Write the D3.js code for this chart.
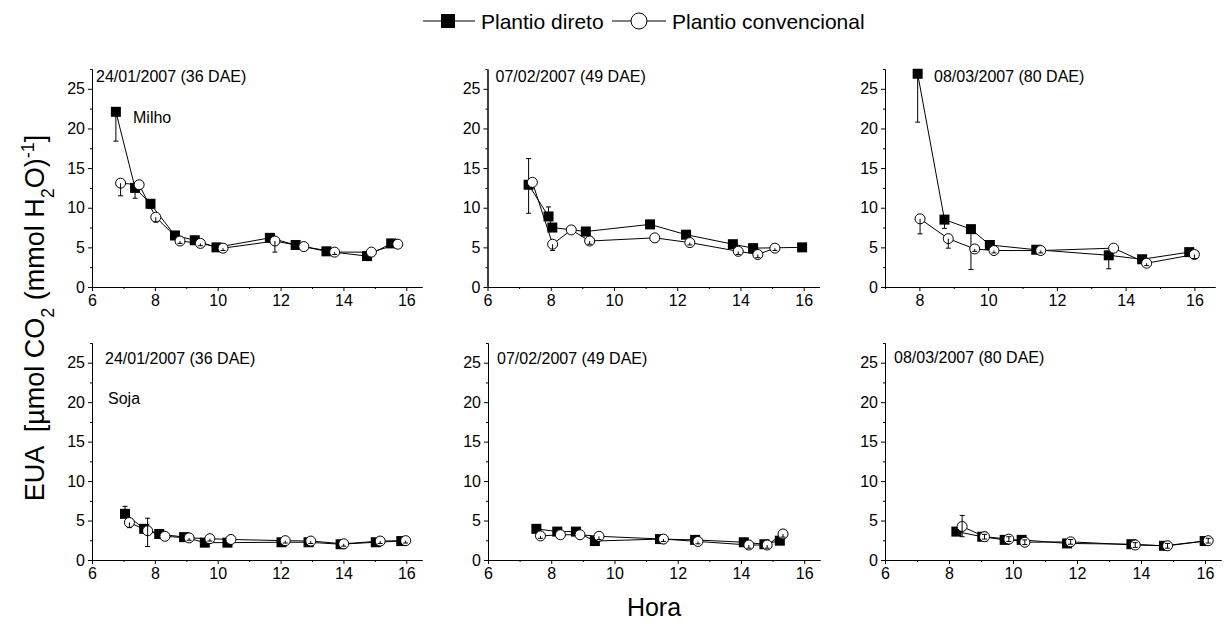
<!DOCTYPE html>
<html>
<head>
<meta charset="utf-8">
<script src="https://d3js.org/d3.v7.min.js"></script>
<style>
	body { margin: 0; background: #fff; }
	text { font-family: "Liberation Sans", Arial, sans-serif; fill: #000; }
</style>
</head>
<body>
<div id="chart"></div>
<script>
// each point: [hora, EUA, erro abaixo, erro acima]
var milho24Direto = [[6.76,22.1,3.7,0],[7.37,12.5,1.3,0],[7.86,10.5,0.6,0],[8.64,6.5,0,0],[9.27,5.9,0,0],[9.96,5.0,0,0],[11.66,6.2,0,0],[12.48,5.3,0,0],[13.46,4.5,0,0],[14.75,3.9,0,0],[15.52,5.5,0,0]]
var milho24Conv = [[6.91,13.1,1.6,0],[7.50,12.9,0,0],[8.03,8.8,0.6,0],[8.80,5.8,0.3,0],[9.45,5.5,0.3,0],[10.17,4.9,0.3,0],[11.82,5.8,1.4,0],[12.74,5.1,0,0],[13.72,4.4,0.3,0],[14.89,4.4,0,0],[15.73,5.4,0,0]]

var milho07Direto = [[7.30,12.9,3.6,3.3],[7.93,8.9,0,1.2],[8.05,7.5,0,0],[9.11,7.0,0,0],[11.14,7.9,0,0],[12.28,6.6,0,0],[13.76,5.4,0,0],[14.40,4.9,0,0],[15.95,5.0,0,0]]
var milho07Conv = [[7.42,13.2,0,0],[8.06,5.4,0.8,0],[8.65,7.2,0,0],[9.23,5.8,0.4,0],[11.29,6.2,0,0],[12.40,5.6,0.3,0],[13.93,4.5,0.4,0],[14.55,4.1,0.4,0],[15.09,4.9,0.3,0]]

var milho08Direto = [[7.95,26.9,6.1,0],[8.73,8.5,1.1,0],[9.50,7.3,5.1,0],[10.05,5.3,0,0],[11.40,4.7,0,0],[13.51,4.0,1.7,0],[14.48,3.5,0,0],[15.85,4.4,0.5,0]]
var milho08Conv = [[8.02,8.6,1.9,0],[8.84,6.1,1.2,0],[9.61,4.8,0.3,0],[10.17,4.6,0.3,0],[11.53,4.6,0.3,0],[13.65,4.9,0,0],[14.61,3.0,0.3,0],[16.00,4.1,0.5,0]]

var soja24Direto = [[7.05,5.85,0,0.95],[7.66,3.95,0,0],[8.14,3.3,0,0],[8.93,2.9,0,0],[9.59,2.2,0,0],[10.31,2.2,0,0],[12.03,2.25,0,0],[12.89,2.25,0,0],[13.91,2.0,0,0],[15.03,2.25,0,0],[15.84,2.4,0,0]]
var soja24Conv = [[7.19,4.75,0.65,0],[7.77,3.7,2.0,1.6],[8.32,3.0,0,0],[9.09,2.8,0.3,0],[9.75,2.7,0.3,0],[10.42,2.6,0,0],[12.15,2.45,0.3,0],[12.96,2.4,0.3,0],[14.01,2.05,0.3,0],[15.17,2.4,0.3,0],[15.98,2.45,0.3,0]]

var soja07Direto = [[7.53,3.95,0,0],[8.19,3.6,0,0],[8.78,3.6,0,0],[9.38,2.4,0,0],[11.44,2.65,0,0],[12.55,2.55,0,0],[14.09,2.25,0,0],[14.74,2.0,0,0],[15.23,2.45,0,0]]
var soja07Conv = [[7.66,3.05,0.3,0],[8.29,3.2,0,0],[8.91,3.2,0,0],[9.51,3.0,0.4,0],[11.55,2.65,0.3,0],[12.64,2.35,0.3,0],[14.25,1.9,0.4,0],[14.83,1.9,0.4,0],[15.33,3.3,0.4,0]]

var soja08Direto = [[8.23,3.6,0,0],[9.04,2.95,0,0],[9.74,2.55,0,0],[10.27,2.55,0,0],[11.69,2.1,0,0],[13.70,2.0,0,0],[14.72,1.8,0,0],[15.99,2.4,0,0]]
var soja08Conv = [[8.41,4.25,1.3,1.4],[9.11,2.95,0.3,0.3],[9.87,2.65,0.3,0.3],[10.37,2.25,0.3,0.3],[11.80,2.3,0.3,0.3],[13.82,1.9,0.3,0.3],[14.83,1.8,0.3,0.3],[16.10,2.45,0.3,0.3]]

var titles = ["24/01/2007 (36 DAE)", "07/02/2007 (49 DAE)", "08/03/2007 (80 DAE)"]
var crops = ["Milho", "Soja"]
var seriesNames = ["Plantio direto", "Plantio convencional"]
var yTicks = [0, 5, 10, 15, 20, 25]
var yMinor = [2.5, 7.5, 12.5, 17.5, 22.5, 27.5]
var xTicks = [6, 8, 10, 12, 14, 16]
var xMinor = [7, 9, 11, 13, 15]

// panel layout (pixels)
var panels = [
	{dir: milho24Direto, conv: milho24Conv, title: 0, crop: 0, left: 92, width: 330, xMin: 6, xMax: 16.5, row: 0, tx: 4, ty: 13},
	{dir: milho07Direto, conv: milho07Conv, title: 1, crop: -1, left: 487.5, width: 332, xMin: 6, xMax: 16.5, row: 0, tx: 8, ty: 13},
	{dir: milho08Direto, conv: milho08Conv, title: 2, crop: -1, left: 885, width: 330, xMin: 7, xMax: 16.6, row: 0, tx: 49, ty: 13},
	{dir: soja24Direto, conv: soja24Conv, title: 0, crop: 1, left: 92, width: 330, xMin: 6, xMax: 16.5, row: 1, tx: 13, ty: 21},
	{dir: soja07Direto, conv: soja07Conv, title: 1, crop: -1, left: 488, width: 332, xMin: 6, xMax: 16.5, row: 1, tx: 9, ty: 21},
	{dir: soja08Direto, conv: soja08Conv, title: 2, crop: -1, left: 885, width: 336, xMin: 6, xMax: 16.5, row: 1, tx: 9, ty: 20}
]
var rows = [{top: 69, bottom: 287}, {top: 343, bottom: 560}]

var svg = d3.select("#chart").append("svg")
	.attr("width", 1227)
	.attr("height", 624)

function drawPanel(p){
	var r = rows[p.row]
	var g = svg.append("g").attr("transform", "translate(" + p.left + "," + r.top + ")")
	var h = r.bottom - r.top

	var x = d3.scaleLinear().domain([p.xMin, p.xMax]).range([0, p.width])
	var y = d3.scaleLinear().domain([0, 27.5]).range([h, 0])

	g.append("g")
		.call(d3.axisLeft(y).tickValues(yTicks).tickSize(4).tickSizeOuter(0).tickPadding(3))
	g.append("g")
		.call(d3.axisLeft(y).tickValues(yMinor).tickSize(2).tickSizeOuter(0).tickFormat(""))
	g.append("g")
		.attr("transform", "translate(0," + h + ")")
		.call(d3.axisBottom(x).tickValues(xTicks.filter(function(d){ return d >= p.xMin })).tickSize(4).tickSizeOuter(0).tickPadding(4))
	g.append("g")
		.attr("transform", "translate(0," + h + ")")
		.call(d3.axisBottom(x).tickValues(xMinor.filter(function(d){ return d >= p.xMin })).tickSize(2).tickSizeOuter(0).tickFormat(""))

	g.selectAll(".domain, .tick line").attr("stroke", "#000").attr("stroke-width", 1)
	g.selectAll(".tick text").style("font-size", "16px").style("font-family", "'Liberation Sans', Arial, sans-serif").attr("fill", "#000")

	g.append("text")
		.attr("x", p.tx)
		.attr("y", p.ty)
		.style("font-size", "16px")
		.text(titles[p.title])

	if(p.crop >= 0){
		g.append("text")
			.attr("x", p.crop == 0 ? 41 : 16)
			.attr("y", p.crop == 0 ? 54 : 61)
			.style("font-size", "16px")
			.text(crops[p.crop])
	}

	var line = d3.line()
		.x(function(d){ return x(d[0]) })
		.y(function(d){ return y(d[1]) })

	// Plantio direto
	g.append("path")
		.datum(p.dir)
		.attr("d", line)
		.attr("fill", "none")
		.attr("stroke", "#000")
		.attr("stroke-width", 1)
	g.selectAll(".sq")
		.data(p.dir)
		.enter()
		.append("rect")
		.attr("class", "sq")
		.attr("x", function(d){ return x(d[0]) - 5 })
		.attr("y", function(d){ return y(d[1]) - 5 })
		.attr("width", 10)
		.attr("height", 10)
		.attr("fill", "#000")
	drawErrors(g, p.dir, x, y)

	// Plantio convencional
	g.append("path")
		.datum(p.conv)
		.attr("d", line)
		.attr("fill", "none")
		.attr("stroke", "#000")
		.attr("stroke-width", 1)
	g.selectAll(".ci")
		.data(p.conv)
		.enter()
		.append("circle")
		.attr("class", "ci")
		.attr("cx", function(d){ return x(d[0]) })
		.attr("cy", function(d){ return y(d[1]) })
		.attr("r", 5)
		.attr("fill", "#fff")
		.attr("stroke", "#000")
		.attr("stroke-width", 1)
	drawErrors(g, p.conv, x, y)
}

function drawErrors(g, data, x, y){
	var withErr = data.filter(function(d){ return d[2] > 0 || d[3] > 0 })
	var eb = g.append("g").attr("stroke", "#000").attr("stroke-width", 1)
	withErr.forEach(function(d){
		var cx = x(d[0])
		var lo = y(d[1] - d[2])
		var hi = y(d[1] + d[3])
		eb.append("line").attr("x1", cx).attr("x2", cx).attr("y1", lo).attr("y2", hi)
		if(d[2] > 0)
			eb.append("line").attr("x1", cx - 2.5).attr("x2", cx + 2.5).attr("y1", lo).attr("y2", lo)
		if(d[3] > 0)
			eb.append("line").attr("x1", cx - 2.5).attr("x2", cx + 2.5).attr("y1", hi).attr("y2", hi)
	})
}

panels.forEach(drawPanel)

// legend
var legend = svg.append("g").attr("transform", "translate(0,21)")
legend.append("line").attr("x1", 423).attr("x2", 475).attr("y1", 0).attr("y2", 0).attr("stroke", "#000")
legend.append("rect").attr("x", 441).attr("y", -7).attr("width", 14).attr("height", 14).attr("fill", "#000")
legend.append("text").attr("x", 481).attr("y", 7.5).style("font-size", "21px").text(seriesNames[0])
legend.append("line").attr("x1", 612).attr("x2", 666).attr("y1", 0).attr("y2", 0).attr("stroke", "#000")
legend.append("circle").attr("cx", 639).attr("cy", 0).attr("r", 8).attr("fill", "#fff").attr("stroke", "#000")
legend.append("text").attr("x", 672).attr("y", 7.5).style("font-size", "21px").text(seriesNames[1])

// axis titles
svg.append("text")
	.attr("x", 654)
	.attr("y", 616)
	.attr("text-anchor", "middle")
	.style("font-size", "25px")
	.text("Hora")

var yl = svg.append("text")
	.attr("transform", "translate(44,318) rotate(-90)")
	.attr("text-anchor", "middle")
	.style("font-size", "27px")
	.style("white-space", "pre")
yl.append("tspan").text("EUA  [µmol CO")
yl.append("tspan").attr("baseline-shift", "sub").style("font-size", "18px").text("2")
yl.append("tspan").text(" (mmol H")
yl.append("tspan").attr("baseline-shift", "sub").style("font-size", "18px").text("2")
yl.append("tspan").text("O)")
yl.append("tspan").attr("baseline-shift", "super").style("font-size", "18px").text("-1")
yl.append("tspan").text("]")
</script>
</body>
</html>
